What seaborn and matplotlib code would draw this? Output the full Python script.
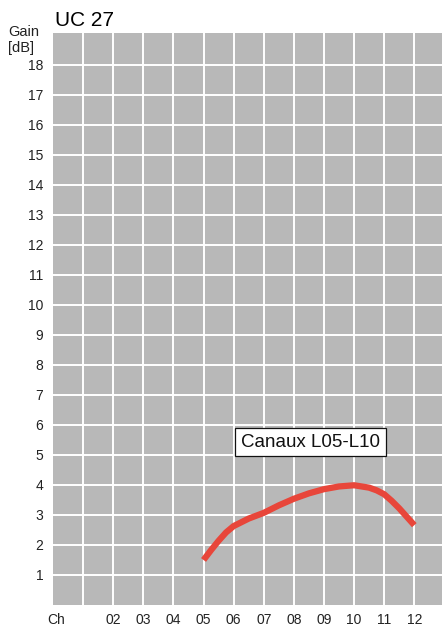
import seaborn as sns
import matplotlib.pyplot as plt
import pandas as pd

# values
channels = [5.0, 5.25, 5.5, 5.75, 6.0, 6.5, 7.0, 7.5, 8.0, 8.5, 9.0, 9.5, 10.0,
            10.5, 10.75, 11.0, 11.25, 11.5, 11.75, 12.0]
gain_db = [1.50, 1.83, 2.14, 2.42, 2.63, 2.88, 3.07, 3.32, 3.54, 3.72, 3.86, 3.95, 3.99,
           3.91, 3.82, 3.69, 3.47, 3.22, 2.94, 2.66]
x_ticks = list(range(1, 13))
x_labels = ["", "02", "03", "04", "05", "06", "07", "08", "09", "10", "11", "12"]
y_ticks = list(range(1, 19))
title = "UC 27"
series_label = "Canaux L05-L10"

sns.set_theme(style="darkgrid", rc={
    "axes.facecolor": "#b8b8b8",
    "grid.color": "white",
    "grid.linewidth": 1.4,
    "figure.facecolor": "white",
})
plt.rcParams["font.family"] = ["Liberation Sans", "DejaVu Sans"]

df = pd.DataFrame({"ch": channels, "gain": gain_db})

fig = plt.figure(figsize=(4.42, 6.28), dpi=100)
ax = fig.add_axes([53 / 442, 23 / 628, 1 - 53 / 442, 572 / 628])

sns.lineplot(data=df, x="ch", y="gain", ax=ax, color="#e8463a",
             linewidth=4.5, solid_capstyle="butt", solid_joinstyle="round")

ax.set_xlim(0, 12.92)
ax.set_ylim(0, 19.06)
ax.set_xticks(x_ticks)
ax.set_xticklabels(x_labels)
ax.set_yticks(y_ticks)
ax.set_yticklabels([str(v) for v in y_ticks])
ax.tick_params(axis="both", length=0, labelsize=10, colors="#222222")
ax.tick_params(axis="y", pad=7)
ax.tick_params(axis="x", pad=6)
ax.set_xlabel("")
ax.set_ylabel("")
for s in ax.spines.values():
    s.set_visible(False)

ax.text(8.55, 5.42, series_label, ha="center", va="center", fontsize=13.5,
        color="#111111",
        bbox=dict(boxstyle="square,pad=0.3", fc="white", ec="#111111", lw=0.9))

fig.text(55 / 442, 1 - 21 / 628, title, ha="left", va="center", fontsize=15, color="black")
fig.text(8 / 442, 1 - 40 / 628, "Gain\n[dB]", ha="left", va="center", fontsize=10.5,
         linespacing=1.1, color="#222222")
fig.text(47 / 442, 1 - 620 / 628, "Ch", ha="left", va="center", fontsize=10, color="#222222")

fig.savefig("out.png", dpi=100)
